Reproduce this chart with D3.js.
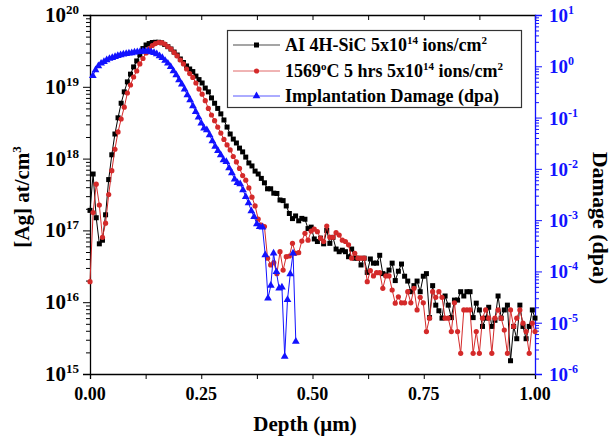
<!DOCTYPE html>
<html>
<head>
<meta charset="utf-8">
<script src="https://cdn.jsdelivr.net/npm/d3@7"></script>
<style>
  body { margin: 0; background: #fff; }
  text { font-family: "Liberation Serif", "Times New Roman", serif; font-weight: bold; }
</style>
</head>
<body>
<div id="chart"></div>
<script>
// depth grid of the SIMS profiles (um)
const depthSims = [
  0.000,0.007,0.014,0.021,0.028,0.035,0.042,0.049,0.056,0.063,
  0.070,0.077,0.084,0.091,0.098,0.105,0.112,0.119,0.126,0.133,
  0.140,0.147,0.154,0.161,0.168,0.175,0.182,0.189,0.196,0.203,
  0.210,0.217,0.224,0.231,0.238,0.245,0.252,0.259,0.266,0.273,
  0.280,0.287,0.294,0.301,0.308,0.315,0.322,0.329,0.336,0.343,
  0.350,0.357,0.364,0.371,0.378,0.385,0.392,0.399,0.406,0.413,
  0.420,0.427,0.434,0.441,0.448,0.455,0.462,0.469,0.476,0.483,
  0.490,0.497,0.504,0.511,0.518,0.525,0.532,0.539,0.546,0.553,
  0.560,0.567,0.574,0.581,0.588,0.595,0.602,0.609,0.616,0.623,
  0.630,0.637,0.644,0.651,0.658,0.665,0.672,0.679,0.686,0.693,
  0.700,0.707,0.714,0.721,0.728,0.735,0.742,0.749,0.756,0.763,
  0.770,0.777,0.784,0.791,0.798,0.805,0.812,0.819,0.826,0.833,
  0.840,0.847,0.854,0.861,0.868,0.875,0.882,0.889,0.896,0.903,
  0.910,0.917,0.924,0.931,0.938,0.945,0.952,0.959,0.966,0.973,
  0.980,0.987,0.994,1.000
];

// [Ag] as implanted (at/cm3)
const agImplanted = [
  1.9e17,6.1e17,1.5e17,6.5e16,7.3e16,1.65e17,5.1e17,1.13e18,2.2e18,3.7e18,
  5.9e18,8.5e18,1.17e19,1.5e19,1.89e19,2.29e19,2.77e19,3.41e19,3.82e19,4.0e19,
  4.14e19,4.17e19,4.17e19,4.1e19,3.88e19,3.62e19,3.36e19,3.05e19,2.77e19,2.44e19,
  2.18e19,1.95e19,1.77e19,1.63e19,1.41e19,1.26e19,1.13e19,9.6e18,8.5e18,7.0e18,
  5.9e18,5.0e18,4.2e18,3.45e18,2.75e18,2.2e18,1.87e18,1.65e18,1.4e18,1.24e18,
  1.05e18,8.7e17,7.9e17,6.7e17,6.1e17,5.3e17,4.6e17,3.8e17,3.8e17,3.3e17,
  3.27e17,2.65e17,2.6e17,2.19e17,1.72e17,1.46e17,1.59e17,1.36e17,1.47e17,1.43e17,
  1.06e17,1.11e17,7.6e16,7.0e16,7.8e16,6.5e16,1.0e17,6.6e16,8.0e16,5.5e16,
  5.05e16,5.3e16,5.05e16,4.3e16,5.5e16,4.1e16,4.1e16,3.3e16,4.1e16,2.6e16,
  4.0e16,3.5e16,3.5e16,4.5e16,2.5e16,2.4e16,2.8e16,3.5e16,2.0e16,2.7e16,
  3.4e16,2.3e16,1.97e16,1.4e16,1.7e16,1.97e16,1.4e16,2.3e16,2.5e16,6.1e15,
  1.7e16,9.1e15,7.6e15,6.0e15,1.22e16,9.1e15,6.1e15,1.07e16,1.07e16,1.4e16,
  1.22e16,1.4e16,1.4e16,6.1e15,9.7e15,7.8e15,4.6e15,6.0e15,8.5e15,4.6e15,
  5.6e15,1.22e16,6.0e15,7.8e15,9.1e15,1.53e15,4.6e15,3.1e15,9.1e15,4.6e15,
  3.1e15,4.6e15,7.8e15,6.0e15
];

// [Ag] after 1569 C, 5 hrs (at/cm3)
const agAnnealed = [
  1.93e16,1.77e17,4.4e17,2.26e17,8.0e16,1.26e17,3.16e17,6.8e17,1.35e18,2.35e18,
  3.56e18,5.2e18,8.2e18,1.06e19,1.37e19,1.66e19,2.08e19,2.48e19,2.96e19,3.41e19,
  3.76e19,4.0e19,4.14e19,4.12e19,3.94e19,3.64e19,3.36e19,3.0e19,2.69e19,2.36e19,
  2.08e19,1.77e19,1.53e19,1.35e19,1.13e19,9.3e18,7.9e18,6.4e18,5.0e18,4.05e18,
  3.37e18,2.75e18,2.27e18,1.85e18,1.55e18,1.32e18,1.07e18,9.0e17,7.3e17,5.8e17,
  5.0e17,3.9e17,2.9e17,2.19e17,1.44e17,1.19e17,1.13e17,4.1e16,3.3e16,3.55e16,
  2.5e16,5.05e16,2.8e16,4.3e16,4.4e16,6.6e16,4.8e16,4.9e16,7.1e16,9.1e16,
  7.3e16,9.8e16,1.04e17,9.6e16,7.8e16,7.0e16,1.15e17,8.0e16,8.0e16,9.3e16,
  8.6e16,7.3e16,7.0e16,6.3e16,4.1e16,4.8e16,4.1e16,4.1e16,4.1e16,1.93e16,
  2.75e16,2.32e16,2.58e16,2.58e16,1.56e16,2.32e16,2.32e16,1.48e16,9.7e15,1.19e16,
  9.8e15,9.8e15,1.4e16,9.8e15,1.56e16,7.8e15,1.17e16,9.8e15,3.9e15,6.0e15,
  1.4e16,1.17e16,1.4e16,1.17e16,6.0e15,6.0e15,3.9e15,9.8e15,3.9e15,1.94e15,
  7.8e15,7.8e15,7.8e15,1.94e15,3.9e15,1.94e15,6.0e15,7.8e15,6.0e15,1.94e15,
  6.0e15,7.8e15,6.0e15,4.1e15,1.94e15,7.8e15,4.6e15,6.0e15,7.8e15,5.1e15,
  3.9e15,1.94e15,5.1e15,3.9e15
];

// implantation damage grid (um) and values (dpa)
const depthDamage = [
  0.0063,0.0125,0.0188,0.0250,0.0313,0.0375,0.0438,0.0500,0.0563,0.0625,
  0.0688,0.0750,0.0813,0.0875,0.0938,0.1000,0.1063,0.1125,0.1188,0.1250,
  0.1313,0.1375,0.1438,0.1500,0.1563,0.1625,0.1688,0.1750,0.1813,0.1875,
  0.1938,0.2000,0.2063,0.2125,0.2188,0.2250,0.2313,0.2375,0.2438,0.2500,
  0.2563,0.2625,0.2688,0.2750,0.2813,0.2875,0.2938,0.3000,0.3063,0.3125,
  0.3188,0.3250,0.3313,0.3375,0.3438,0.3500,0.3563,0.3625,0.3688,0.3750,
  0.3813,0.3875,0.3938,0.4000,0.4063,0.4125,0.4188,0.4250,0.4313,0.4375,
  0.4438,0.4500,0.4563,0.4625
];
const damageDpa = [
  0.656,0.847,1.01,1.14,1.23,1.33,1.41,1.47,1.54,1.61,
  1.66,1.71,1.76,1.79,1.82,1.87,1.90,1.93,1.96,1.96,
  1.96,1.90,1.84,1.74,1.59,1.47,1.29,1.14,0.98,0.81,
  0.676,0.54,0.446,0.356,0.276,0.22,0.168,0.130,0.101,0.0774,
  0.0618,0.0573,0.0458,0.035,0.0273,0.0226,0.0187,0.0149,0.0138,0.0104,
  0.0083,0.00627,0.00538,0.00508,0.00388,0.00287,0.00216,0.00151,0.00117,8.4e-4,
  7.4e-4,7.3e-4,2.1e-4,3.0e-5,5.3e-5,2.26e-4,9.8e-5,4.7e-5,4.9e-5,2.2e-6,
  2.8e-5,8.9e-5,2.26e-4,4.3e-6
];

const xTickValues = [0, 0.125, 0.25, 0.375, 0.5, 0.625, 0.75, 0.875, 1];
const xLabelValues = [0, 0.25, 0.5, 0.75, 1];
const leftExponents = [15, 16, 17, 18, 19, 20];
const rightExponents = [-6, -5, -4, -3, -2, -1, 0, 1];
const legendNames = [
  "AI 4H-SiC 5x10^{14} ions/cm^{2}",
  "1569^{o}C 5 hrs 5x10^{14} ions/cm^{2}",
  "Implantation Damage (dpa)"
];

const width = 612, height = 440;
const plotLeft = 90, plotRight = 535, plotTop = 15, plotBottom = 374;
const red = "#d42a2a", blue = "#1212ff";

const svg = d3.select("#chart").append("svg")
  .attr("width", width)
  .attr("height", height);

const x = d3.scaleLinear().domain([0, 1]).range([plotLeft, plotRight]);
const yL = d3.scaleLog().domain([1e15, 1e20]).range([plotBottom, plotTop]);
const yR = d3.scaleLog().domain([1e-6, 1e1]).range([plotBottom, plotTop]);

// adds text with ^{..} parts as superscripts
function richText(sel, str, supSize, shift) {
  const parts = str.split(/(\^\{[^}]*\})/).filter(s => s.length);
  let up = false;
  parts.forEach(p => {
    if (p.startsWith("^{")) {
      sel.append("tspan").attr("font-size", supSize).attr("dy", -shift).text(p.slice(2, -1));
      up = true;
    } else {
      sel.append("tspan").attr("dy", up ? shift : 0).text(p);
      up = false;
    }
  });
}

function minorsOf(exps) {
  const out = [];
  exps.slice(0, -1).forEach(e => {
    for (let m = 2; m <= 9; m++) out.push(m * Math.pow(10, e));
  });
  return out;
}

// x axes
svg.append("g")
  .attr("transform", `translate(0,${plotBottom})`)
  .call(d3.axisBottom(x).tickValues(xTickValues).tickSize(5).tickFormat(""))
  .call(g => g.select(".domain").attr("stroke-width", 1.3));

svg.append("g")
  .selectAll("text")
  .data(xLabelValues)
  .join("text")
  .attr("x", d => x(d))
  .attr("y", 400)
  .attr("text-anchor", "middle")
  .attr("font-size", 18)
  .text(d => d.toFixed(2));

svg.append("g")
  .attr("transform", `translate(0,${plotTop})`)
  .call(d3.axisBottom(x).tickValues(xTickValues).tickSize(5).tickFormat(""))
  .call(g => g.select(".domain").attr("stroke-width", 1.3));

// left axis
const gL = svg.append("g").attr("transform", `translate(${plotLeft},0)`);
gL.call(d3.axisLeft(yL).tickValues(leftExponents.map(e => Math.pow(10, e))).tickSize(7).tickFormat(""))
  .call(g => g.select(".domain").attr("stroke-width", 1.3));
gL.append("g")
  .call(d3.axisLeft(yL).tickValues(minorsOf(leftExponents)).tickSize(4).tickFormat(""))
  .call(g => g.select(".domain").remove());

svg.append("g")
  .selectAll("text")
  .data(leftExponents)
  .join("text")
  .attr("x", 79)
  .attr("y", e => yL(Math.pow(10, e)) + 7)
  .attr("text-anchor", "end")
  .attr("font-size", 21)
  .each(function (e) { richText(d3.select(this), "10^{" + e + "}", 13, 8); });

// right axis
const gR = svg.append("g").attr("transform", `translate(${plotRight},0)`);
gR.call(d3.axisRight(yR).tickValues(rightExponents.map(e => Math.pow(10, e))).tickSize(7).tickFormat(""))
  .call(g => g.selectAll("line,path").attr("stroke", blue))
  .call(g => g.select(".domain").attr("stroke-width", 1.3));
gR.append("g")
  .call(d3.axisRight(yR).tickValues(minorsOf(rightExponents)).tickSize(4).tickFormat(""))
  .call(g => g.select(".domain").remove())
  .call(g => g.selectAll("line").attr("stroke", blue));

svg.append("g")
  .selectAll("text")
  .data(rightExponents)
  .join("text")
  .attr("x", 549)
  .attr("y", e => yR(Math.pow(10, e)) + 7)
  .attr("font-size", 19)
  .attr("fill", blue)
  .each(function (e) { richText(d3.select(this), "10^{" + e + "}", 12, 8); });

// axis titles
svg.append("text")
  .attr("transform", "translate(29,197) rotate(-90)")
  .attr("text-anchor", "middle")
  .attr("font-size", 21)
  .call(t => richText(t, "[Ag] at/cm^{3}", 13, 8));

svg.append("text")
  .attr("transform", "translate(593,218) rotate(90)")
  .attr("text-anchor", "middle")
  .attr("font-size", 22)
  .text("Damage (dpa)");

svg.append("text")
  .attr("x", 305)
  .attr("y", 431)
  .attr("text-anchor", "middle")
  .attr("font-size", 21)
  .text("Depth (\u03bcm)");

// series
const blackPts = depthSims.map((d, i) => [d, agImplanted[i]]);
const redPts = depthSims.map((d, i) => [d, agAnnealed[i]]);
const bluePts = depthDamage.map((d, i) => [d, damageDpa[i]]);

const lineL = d3.line().x(d => x(d[0])).y(d => yL(d[1]));
const lineR = d3.line().x(d => x(d[0])).y(d => yR(d[1]));

svg.append("path").datum(blackPts).attr("d", lineL)
  .attr("fill", "none").attr("stroke", "#000").attr("stroke-width", 1);
svg.append("g").selectAll("rect").data(blackPts).join("rect")
  .attr("x", d => x(d[0]) - 2.5).attr("y", d => yL(d[1]) - 2.5)
  .attr("width", 5).attr("height", 5).attr("fill", "#000");

svg.append("path").datum(redPts).attr("d", lineL)
  .attr("fill", "none").attr("stroke", red).attr("stroke-width", 1);
svg.append("g").selectAll("circle").data(redPts).join("circle")
  .attr("cx", d => x(d[0])).attr("cy", d => yL(d[1]))
  .attr("r", 2.6).attr("fill", red);

const tri = d3.symbol().type(d3.symbolTriangle).size(26);
svg.append("path").datum(bluePts).attr("d", lineR)
  .attr("fill", "none").attr("stroke", blue).attr("stroke-width", 1);
svg.append("g").selectAll("path").data(bluePts).join("path")
  .attr("transform", d => `translate(${x(d[0])},${yR(d[1])})`)
  .attr("d", tri).attr("fill", blue);

// legend
const lg = svg.append("g");
lg.append("rect")
  .attr("x", 227.5).attr("y", 30.5).attr("width", 294).attr("height", 77)
  .attr("fill", "#fff").attr("stroke", "#333").attr("stroke-width", 1.2);

const legendColors = ["#000", red, blue];
const legendY = [45, 71, 96];
legendNames.forEach((name, i) => {
  const yy = legendY[i];
  lg.append("line").attr("x1", 233).attr("x2", 280).attr("y1", yy).attr("y2", yy)
    .attr("stroke", legendColors[i]).attr("stroke-width", 1).attr("opacity", 0.7);
  if (i === 0) {
    lg.append("rect").attr("x", 254).attr("y", yy - 2.5).attr("width", 5).attr("height", 5).attr("fill", "#000");
  } else if (i === 1) {
    lg.append("circle").attr("cx", 256.5).attr("cy", yy).attr("r", 2.6).attr("fill", red);
  } else {
    lg.append("path").attr("transform", `translate(256.5,${yy})`).attr("d", tri).attr("fill", blue);
  }
  lg.append("text")
    .attr("x", 285).attr("y", yy + 6)
    .attr("font-size", 18)
    .call(t => richText(t, name, 11, 7));
});
</script>
</body>
</html>
